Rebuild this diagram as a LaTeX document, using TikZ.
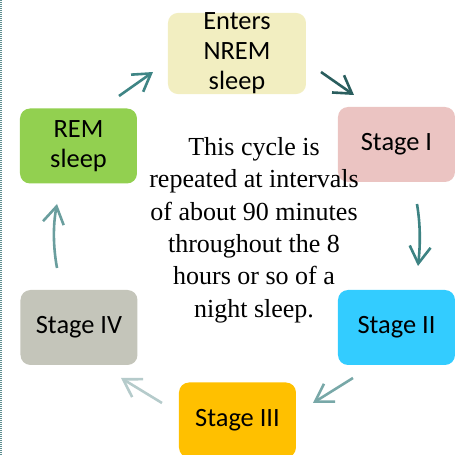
\documentclass[tikz,border=0pt]{standalone}
\usepackage{fontspec}
\setmainfont{Carlito}
\newfontfamily\notefont{Liberation Serif}
\usepackage{xcolor}
\usetikzlibrary{arrows.meta}

\definecolor{nremfill}{HTML}{F2EEC1}
\definecolor{onefill}{HTML}{EBC4C2}
\definecolor{twofill}{HTML}{33CCFF}
\definecolor{threefill}{HTML}{FFC000}
\definecolor{fourfill}{HTML}{C4C5BA}
\definecolor{remfill}{HTML}{92D050}
\definecolor{edgeline}{HTML}{5E8E90}

\begin{document}
\begin{tikzpicture}[x=0.5pt,y=-0.5pt,
    phase/.style={rounded corners=5pt, minimum width=58.5pt, minimum height=37.5pt,
      inner sep=0pt, align=center, font=\fontsize{13.2}{15}\selectfont},
    cyc/.style={line width=1.3pt, -{Straight Barb[length=8.5pt,width=10.5pt]}}]
        \useasboundingbox (0,0) rectangle (457,455);
        \draw[edgeline, line width=1pt, dash pattern=on 0.5pt off 0.5pt] (1.5,0) -- (1.5,455);

        \node[phase, fill=nremfill, minimum width=69pt] (nrem) at (237,53.5) {Enters\\NREM\\sleep};
        \node[phase, fill=onefill] (one) at (396.5,144.5) {Stage I};
        \node[phase, fill=twofill] (two) at (396.5,327.5) {Stage II};
        \node[phase, fill=threefill] (three) at (237.5,420) {Stage III};
        \node[phase, fill=fourfill] (four) at (79,327.5) {Stage IV};
        \node[phase, fill=remfill] (rem) at (78.5,146) {REM\\sleep};

        \node[align=center, font=\notefont\fontsize{13}{16.2}\selectfont] (note) at (254,230)
          {This cycle is\\repeated at intervals\\of about 90 minutes\\throughout the 8\\hours or so of a\\night sleep.};

        % arrow ends
        \coordinate (a1) at (119,96);   \coordinate (b1) at (153,72);
        \coordinate (a2) at (321,72);   \coordinate (b2) at (354,95);
        \coordinate (a3) at (417,204);  \coordinate (b3) at (418,266);
        \coordinate (a4) at (353,378);  \coordinate (b4) at (313,403);
        \coordinate (a5) at (162,403);  \coordinate (b5) at (121,378);
        \coordinate (a6) at (57,268);   \coordinate (b6) at (57,204);

        \draw[cyc, color={rgb,255:red,63;green,133;blue,133}] (a1) -- (b1);
        \draw[cyc, color={rgb,255:red,42;green,94;blue,94}] (a2) -- (b2);
        \draw[cyc, color={rgb,255:red,61;green,131;blue,131}] (a3) .. controls (421,228) and (420,248) .. (b3);
        \draw[cyc, color={rgb,255:red,120;green,168;blue,168}] (a4) -- (b4);
        \draw[cyc, color={rgb,255:red,181;green,203;blue,203}] (a5) -- (b5);
        \draw[cyc, color={rgb,255:red,106;green,158;blue,158}] (a6) .. controls (53,246) and (53,225) .. (b6);
      \end{tikzpicture}
\end{document}
